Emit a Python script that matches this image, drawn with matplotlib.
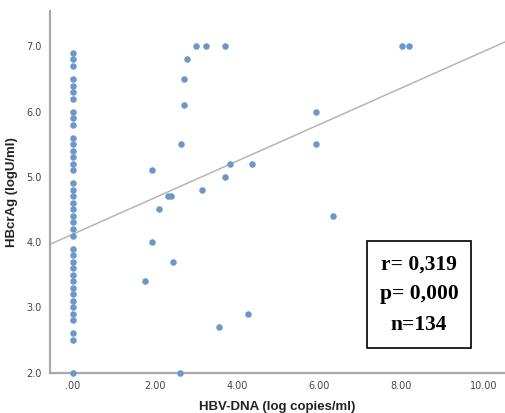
import numpy as np
import matplotlib.pyplot as plt

# HBV-DNA = 0 group
zero_y = [6.9, 6.8, 6.7, 6.5, 6.4, 6.3, 6.2, 6.0, 5.9, 5.8, 5.6, 5.5, 5.4, 5.3, 5.2, 5.1,
          4.9, 4.8, 4.7, 4.6, 4.5, 4.4, 4.3, 4.2, 4.1, 3.9, 3.8, 3.7, 3.6, 3.5, 3.4, 3.3,
          3.2, 3.1, 3.0, 2.9, 2.8, 2.6, 2.5, 2.0]
# detectable HBV-DNA
dna_x = [2.61, 3.00, 3.24, 3.72, 2.79, 2.71, 2.72, 2.65, 1.92, 3.14, 2.33, 2.39, 2.09,
         1.93, 2.45, 1.75, 3.84, 3.72, 3.56, 8.03, 8.18, 5.93, 5.92, 4.37, 6.35, 4.28]
dna_y = [2.0, 7.0, 7.0, 7.0, 6.8, 6.5, 6.1, 5.5, 5.1, 4.8, 4.7, 4.7, 4.5,
         4.0, 3.7, 3.4, 5.2, 5.0, 2.7, 7.0, 7.0, 6.0, 5.5, 5.2, 4.4, 2.9]

fit_intercept = 4.12
fit_slope = 0.28

x_ticks = [0, 2, 4, 6, 8, 10]
x_labels = ['.00', '2.00', '4.00', '6.00', '8.00', '10.00']
y_ticks = [2, 3, 4, 5, 6, 7]
y_labels = ['2.0', '3.0', '4.0', '5.0', '6.0', '7.0']

stats_text = "r= 0,319\np= 0,000\nn=134"

fig = plt.figure(figsize=(5.05, 4.13), dpi=100)
ax = fig.add_axes([0.099, 0.098, 0.901, 0.875])

xs = np.zeros(len(zero_y)).tolist() + dna_x
ys = zero_y + dna_y
ax.scatter(xs, ys, s=22, color='#6b97c9', zorder=3, clip_on=False, linewidths=0)

xl = np.array([-0.553, 10.53])
ax.plot(xl, fit_intercept + fit_slope * xl, color='#b5b5b5', lw=1.1, zorder=2)

ax.set_xlim(-0.553, 10.53)
ax.set_ylim(2.0, 7.54)
ax.set_xticks(x_ticks)
ax.set_xticklabels(x_labels)
ax.set_yticks(y_ticks)
ax.set_yticklabels(y_labels)
ax.tick_params(length=0, labelsize=7, labelcolor='#444444', pad=6)

for s in ['top', 'right']:
    ax.spines[s].set_visible(False)
for s in ['left', 'bottom']:
    ax.spines[s].set_color('#a8a8a8')
    ax.spines[s].set_linewidth(1.6)

ax.set_xlabel('HBV-DNA (log copies/ml)', fontsize=9.5, fontweight='bold',
              family='Liberation Sans', color='#222222', labelpad=7)
ax.set_ylabel('HBcrAg (logU/ml)', fontsize=9.5, fontweight='bold',
              family='Liberation Sans', color='#222222', labelpad=6)

ax.text(0.811, 0.216, stats_text, transform=ax.transAxes, ha='center', va='center',
        fontsize=15.5, fontweight='bold', family='Liberation Serif', linespacing=1.68,
        bbox=dict(boxstyle='square,pad=0.6', facecolor='white', edgecolor='black', lw=1.2))

fig.savefig('out.png', dpi=100)
